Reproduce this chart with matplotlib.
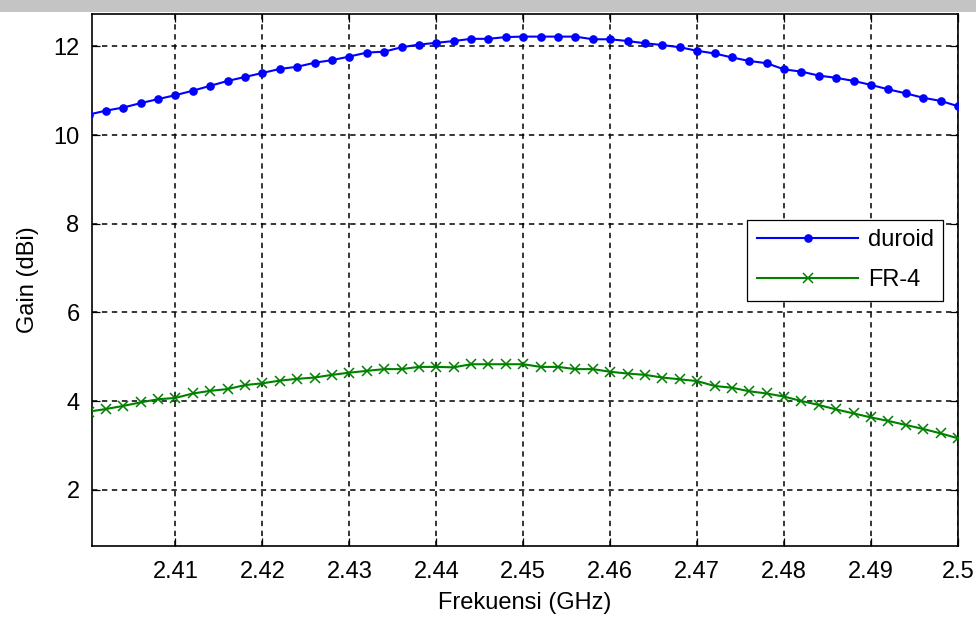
import numpy as np
import matplotlib
matplotlib.use("Agg")
import matplotlib.pyplot as plt
from matplotlib.patches import Rectangle

# Frequency sweep (GHz)
freq = [2.400, 2.402, 2.404, 2.406, 2.408, 2.410, 2.412, 2.414, 2.416, 2.418,
        2.420, 2.422, 2.424, 2.426, 2.428, 2.430, 2.432, 2.434, 2.436, 2.438,
        2.440, 2.442, 2.444, 2.446, 2.448, 2.450, 2.452, 2.454, 2.456, 2.458,
        2.460, 2.462, 2.464, 2.466, 2.468, 2.470, 2.472, 2.474, 2.476, 2.478,
        2.480, 2.482, 2.484, 2.486, 2.488, 2.490, 2.492, 2.494, 2.496, 2.498,
        2.500]

# Gain of the duroid substrate antenna (dBi)
gain_duroid = [10.46, 10.55, 10.62, 10.72, 10.81, 10.90, 11.00, 11.11, 11.22, 11.31,
               11.40, 11.49, 11.54, 11.63, 11.69, 11.77, 11.86, 11.88, 11.98, 12.04,
               12.08, 12.12, 12.17, 12.17, 12.21, 12.22, 12.22, 12.22, 12.22, 12.16,
               12.16, 12.12, 12.07, 12.03, 11.98, 11.90, 11.84, 11.75, 11.67, 11.62,
               11.48, 11.43, 11.34, 11.29, 11.22, 11.13, 11.03, 10.94, 10.84, 10.77,
               10.65]

# Gain of the FR-4 substrate antenna (dBi)
gain_fr4 = [3.76, 3.82, 3.89, 3.97, 4.04, 4.07, 4.17, 4.23, 4.27, 4.36,
            4.40, 4.46, 4.50, 4.53, 4.59, 4.64, 4.68, 4.72, 4.72, 4.77,
            4.77, 4.76, 4.83, 4.83, 4.83, 4.83, 4.77, 4.77, 4.72, 4.72,
            4.66, 4.62, 4.59, 4.53, 4.49, 4.45, 4.34, 4.30, 4.22, 4.17,
            4.10, 4.00, 3.91, 3.81, 3.72, 3.63, 3.55, 3.46, 3.37, 3.27,
            3.16]

xticks = [2.41, 2.42, 2.43, 2.44, 2.45, 2.46, 2.47, 2.48, 2.49, 2.5]
xtick_labels = ["2.41", "2.42", "2.43", "2.44", "2.45", "2.46", "2.47", "2.48", "2.49", "2.5"]
yticks = [2, 4, 6, 8, 10, 12]

FS = 17
plt.rcParams['font.family'] = ['Liberation Sans', 'DejaVu Sans']
plt.rcParams['font.size'] = FS

fig = plt.figure(figsize=(9.76, 6.17), dpi=100)
fig.patch.set_facecolor('white')

# grey strip along the top edge of the image
fig.patches.append(Rectangle((0, 1 - 12 / 617), 1, 12 / 617, transform=fig.transFigure,
                             facecolor='#c4c4c4', edgecolor='none', zorder=0))

ax = fig.add_axes([92 / 976, 1 - 546 / 617, (958 - 92) / 976, (546 - 14) / 617])

ax.plot(freq, gain_duroid, color='#0000ff', lw=1.5, marker='o', ms=5.2,
        mec='#0000ff', mfc='#0000ff', label='duroid', zorder=3)
ax.plot(freq, gain_fr4, color='#008000', lw=1.5, marker='x', ms=6.5, mew=1.1,
        label='FR-4', zorder=3)

ax.set_xlim(2.4004, 2.5)
ax.set_ylim(0.73, 12.73)
ax.set_xticks(xticks)
ax.set_xticklabels(xtick_labels)
ax.set_yticks(yticks)

ax.grid(True, color='black', linestyle=(0, (3.5, 3)), linewidth=1.1)
ax.tick_params(direction='in', length=6, width=0.9, top=True, right=True,
               labelsize=FS, colors='black')
ax.tick_params(axis='x', pad=11)
ax.tick_params(axis='y', pad=9)
for s in ax.spines.values():
    s.set_linewidth(1.2)
    s.set_color('black')

ax.set_xlabel('Frekuensi (GHz)', fontsize=FS, labelpad=6)
ax.set_ylabel('Gain (dBi)', fontsize=FS, labelpad=10)

leg = ax.legend(loc='center right', bbox_to_anchor=(0.983, 0.537), fancybox=False,
                edgecolor='black', framealpha=1, handlelength=4.3,
                borderpad=0.4, labelspacing=0.75, fontsize=FS, handletextpad=0.4,
                borderaxespad=0.0)
leg.get_frame().set_linewidth(0.9)

fig.savefig('out.png', dpi=100)
